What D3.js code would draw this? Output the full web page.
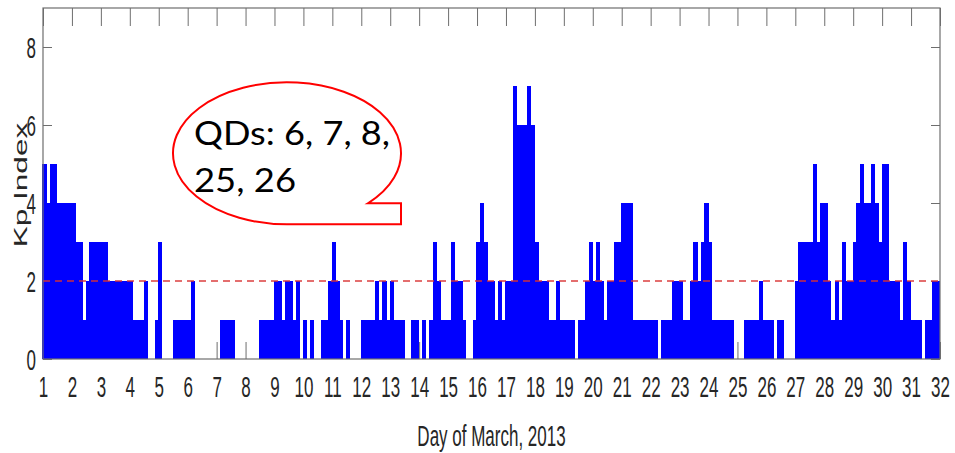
<!DOCTYPE html>
<html><head><meta charset="utf-8">
<script src="https://cdn.jsdelivr.net/npm/d3@7"></script>
<style>body{margin:0;background:#fff} svg{display:block}</style>
</head><body>
<svg id="c" width="955" height="453"></svg>
<script>
// 3-hourly Kp index (integer part), March 1–31, 2013: 8 values per day
const kp = [
 5,4,5,5,4,4,4,4, // 1
 4,3,3,1,2,3,3,3, // 2
 3,3,2,2,2,2,2,2, // 3
 2,1,1,1,2,0,0,1, // 4
 3,0,0,0,1,1,1,1, // 5
 1,2,0,0,0,0,0,0, // 6
 0,1,1,1,1,0,0,0, // 7
 0,0,0,0,1,1,1,1, // 8
 2,2,1,2,2,1,2,0, // 9
 1,0,1,0,0,1,1,2, // 10
 3,2,1,0,1,0,0,0, // 11
 1,1,1,1,2,1,2,1, // 12
 2,1,1,1,0,0,1,1, // 13
 0,1,0,1,3,2,1,1, // 14
 1,3,2,2,1,0,0,1, // 15
 3,4,3,2,2,1,2,1, // 16
 2,2,7,6,6,6,7,6, // 17
 3,2,2,2,1,1,2,1, // 18
 1,1,1,0,1,1,2,3, // 19
 2,3,2,1,2,2,3,3, // 20
 4,4,4,1,1,1,1,1, // 21
 1,1,0,1,1,1,2,2, // 22
 2,1,1,2,3,2,3,4, // 23
 3,1,1,1,1,1,1,0, // 24
 0,0,1,1,1,1,2,1, // 25
 1,1,0,1,1,0,0,0, // 26
 2,3,3,3,3,5,3,4, // 27
 4,2,1,2,1,3,2,2, // 28
 3,4,5,4,4,5,4,3, // 29
 5,5,2,2,2,1,3,2, // 30
 1,1,1,0,1,1,2,2  // 31
];
const stepsPerDay = 8;
const xTicks = d3.range(1, 33);
const yTicks = [0, 2, 4, 6, 8];
const xDomain = [1, 32];
const yDomain = [0, 9];
const threshold = 2;
const qdDays = [6, 7, 8, 25, 26];
const xLabel = "Day of March, 2013";
const yLabel = "Kp Index";

const svg = d3.select('#c');
const L = 43, R = 940, T = 8, B = 359;
const x = d3.scaleLinear().domain(xDomain).range([L, R]);
const y = d3.scaleLinear().domain(yDomain).range([B, T]);
const gray = '#6e6e6e';
const txt = '#262626';
const stretch = 1.75;

function styleAxis(g) {
  g.attr('font-family', '"Liberation Sans", Arial, sans-serif').attr('font-size', 17);
  g.select('.domain').remove();
  g.selectAll('line').attr('stroke', gray).attr('stroke-width', 1);
}

// bottom axis (ticks inward, beneath the bars)
const gx = svg.append('g').attr('transform', `translate(0,${B})`)
  .call(d3.axisBottom(x).tickValues(xTicks).tickSize(-17).tickFormat(d3.format('d')));
styleAxis(gx);
gx.selectAll('text').attr('y', null).attr('dy', null).attr('fill', txt)
  .attr('transform', `translate(0,38) scale(1,${stretch})`);

// top axis
const gt = svg.append('g').attr('transform', `translate(0,${T})`)
  .call(d3.axisTop(x).tickValues(xTicks).tickSize(-18).tickFormat(''));
styleAxis(gt);

// left axis
const gy = svg.append('g').attr('transform', `translate(${L},0)`)
  .call(d3.axisLeft(y).tickValues(yTicks).tickSize(-9).tickFormat(d3.format('d')));
styleAxis(gy);
gy.selectAll('text').attr('x', null).attr('dy', null).attr('fill', txt)
  .attr('transform', `translate(-7,10.5) scale(1,${stretch})`);

// right axis
const gr = svg.append('g').attr('transform', `translate(${R},0)`)
  .call(d3.axisRight(y).tickValues(yTicks).tickSize(-9).tickFormat(''));
styleAxis(gr);

// bars
const data = kp.map((v, i) => ({ t: xDomain[0] + i / stepsPerDay, v }));
const bw = x(xDomain[0] + 1 / stepsPerDay) - x(xDomain[0]);
svg.append('g').attr('shape-rendering', 'crispEdges')
  .selectAll('rect').data(data.filter(d => d.v > 0)).join('rect')
  .attr('x', d => x(d.t) - 0.6)
  .attr('width', bw + 0.6)
  .attr('y', d => y(d.v))
  .attr('height', d => y(0) - y(d.v))
  .attr('fill', '#0000ff');

// threshold line
svg.append('line')
  .attr('x1', x(xDomain[0])).attr('x2', x(xDomain[1]))
  .attr('y1', y(threshold)).attr('y2', y(threshold))
  .attr('stroke', '#d83030').attr('stroke-opacity', 0.7)
  .attr('stroke-width', 2).attr('stroke-dasharray', '7,5');

// frame
svg.append('rect').attr('x', L).attr('y', T).attr('width', R - L).attr('height', B - T)
  .attr('fill', 'none').attr('stroke', gray).attr('stroke-width', 1.2);

// axis labels
svg.append('text').text(xLabel)
  .attr('font-family', '"Liberation Sans", Arial, sans-serif').attr('font-size', 17)
  .attr('fill', txt).attr('text-anchor', 'middle')
  .attr('transform', `translate(${(L + R) / 2},446) scale(1,${stretch})`);
svg.append('text').text(yLabel)
  .attr('font-family', '"Liberation Sans", Arial, sans-serif').attr('font-size', 18)
  .attr('fill', txt).attr('text-anchor', 'middle')
  .attr('transform', `translate(27,185) rotate(-90) scale(${stretch},1)`);

// speech bubble annotation
const cx = 287, cy = 153.3, rx = 114, ry = 71;
const tailX = 401, tailY = 203.3;
const dx = rx * Math.sqrt(1 - ((tailY - cy) / ry) ** 2);
svg.append('path')
  .attr('d', `M${cx},${cy + ry} L${tailX},${cy + ry} L${tailX},${tailY} L${cx + dx},${tailY} A${rx},${ry} 0 1 0 ${cx},${cy + ry} Z`)
  .attr('fill', '#fff').attr('stroke', '#ff0000').attr('stroke-width', 2);
const line1 = 'QDs: ' + qdDays.slice(0, 3).join(', ') + ',';
const line2 = qdDays.slice(3).join(', ');
svg.append('text').text(line1).attr('x', 194).attr('y', 145)
  .attr('font-family', 'Lato, "Open Sans", sans-serif').attr('font-size', 33).attr('fill', '#000')
  .attr('textLength', 196).attr('lengthAdjust', 'spacingAndGlyphs');
svg.append('text').text(line2).attr('x', 194).attr('y', 192)
  .attr('font-family', 'Lato, "Open Sans", sans-serif').attr('font-size', 33).attr('fill', '#000')
  .attr('textLength', 102).attr('lengthAdjust', 'spacingAndGlyphs');
</script>
</body></html>
